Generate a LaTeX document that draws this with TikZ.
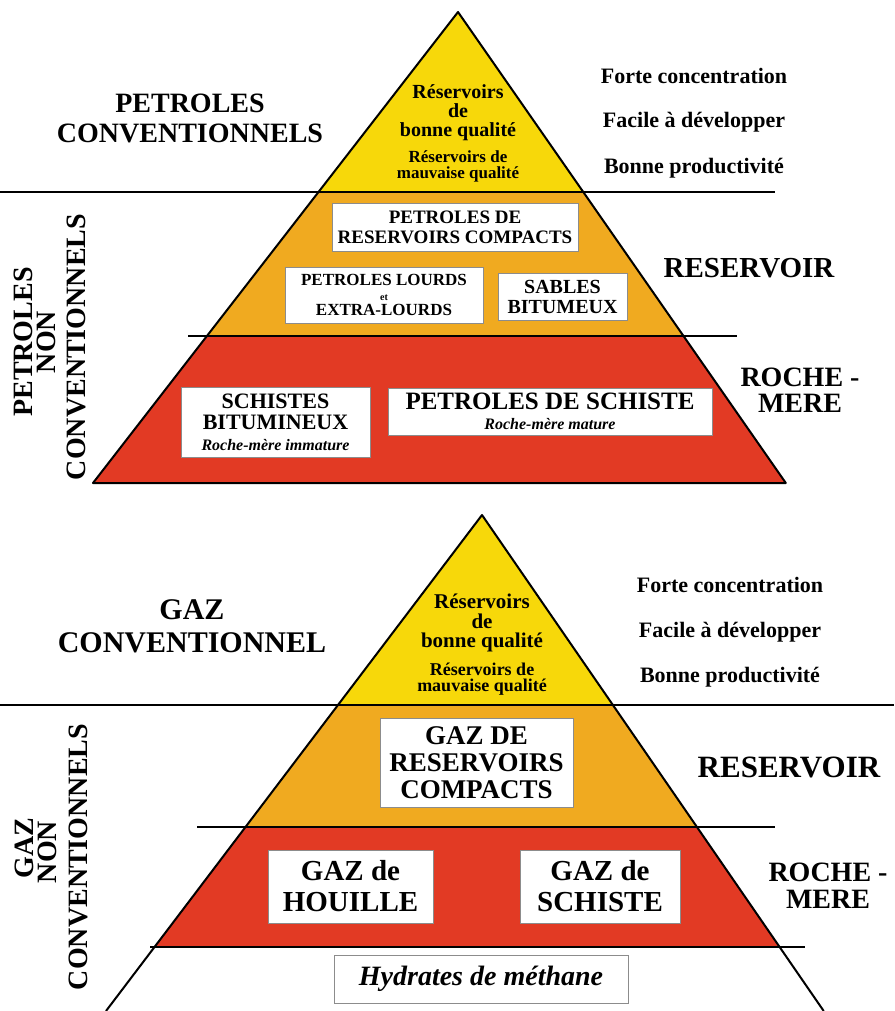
\documentclass[tikz,border=0pt]{standalone}
\usepackage{fontspec}
\setmainfont{Liberation Serif}
\definecolor{pyel}{RGB}{247,216,10}
\definecolor{porg}{RGB}{240,170,32}
\definecolor{pred}{RGB}{226,58,36}
\definecolor{boxgray}{RGB}{140,140,140}
\newcommand{\setfs}[2]{\fontsize{#1}{#2}\selectfont}
\tikzset{
  lbl/.style={inner sep=0pt, align=center},
  wbox/.style={draw=boxgray, line width=0.9pt, fill=white, inner sep=0pt, align=center},
  edge/.style={line width=2pt, line join=round},
  sep/.style={line width=1.8pt}
}
\begin{document}
\begin{tikzpicture}[x=1pt,y=-1pt]
\useasboundingbox (0,0) rectangle (894,1011);
% ---------- TOP PYRAMID ----------
\fill[pyel] (458,12) -- (318.5,192) -- (583.3,192) -- cycle;
\fill[porg] (318.5,192) -- (583.3,192) -- (683.5,336) -- (206.9,336) -- cycle;
\fill[pred] (206.9,336) -- (683.5,336) -- (785.8,483) -- (93,483) -- cycle;
\draw[edge] (458,12) -- (93,483) -- (785.8,483) -- cycle;
\draw[sep] (0,192) -- (775,192);
\draw[sep] (188,336) -- (737,336);

\node[lbl, font=\bfseries\setfs{28}{30}] (t1) at (190,118) {PETROLES\\CONVENTIONNELS};
\node[lbl, font=\bfseries\setfs{22}{22}] (tr1) at (694,76) {Forte concentration};
\node[lbl, font=\bfseries\setfs{22}{22}] (tr2) at (694,122) {Facile à développer};
\node[lbl, font=\bfseries\setfs{22}{22}] (tr3) at (694,168) {Bonne productivité};
\node[lbl, font=\bfseries\setfs{20}{19}] (y1) at (458,113) {Réservoirs\\de\\bonne qualité};
\node[lbl, font=\bfseries\setfs{17}{16}] (y2) at (458,166) {Réservoirs de\\mauvaise qualité};

\node[wbox, font=\bfseries\setfs{19}{20}, minimum width=246pt, minimum height=48pt] (b1) at (455,227) {PETROLES DE\\RESERVOIRS COMPACTS};
\node[wbox, font=\bfseries\setfs{17}{15}, minimum width=198pt, minimum height=56pt] (b2) at (384,295) {PETROLES LOURDS\\{\setfs{10}{15}et}\\EXTRA-LOURDS};
\node[wbox, font=\bfseries\setfs{20}{20}, minimum width=129pt, minimum height=47pt] (b3) at (562.5,296.5) {SABLES\\BITUMEUX};
\node[lbl, font=\bfseries\setfs{29}{29}] (r1) at (749,268) {RESERVOIR};
\node[lbl, font=\bfseries\setfs{28}{26}] (m1) at (800,390) {ROCHE -\\MERE};

\node[wbox, font=\bfseries\setfs{22}{21}, minimum width=189pt, minimum height=70pt] (b4) at (275.5,422) {SCHISTES\\BITUMINEUX\\{\itshape\setfs{16}{21}Roche-mère immature}};
\node[wbox, font=\bfseries\setfs{25}{20}, minimum width=324pt, minimum height=47pt] (b5) at (550,411.5) {PETROLES DE SCHISTE\\{\itshape\setfs{16}{20}Roche-mère mature}};

\node[lbl, font=\bfseries\setfs{28}{28}, rotate=90] (v1) at (23,342) {PETROLES};
\node[lbl, font=\bfseries\setfs{28}{28}, rotate=90] (v2) at (46,342) {NON};
\node[lbl, font=\bfseries\setfs{28}{28}, rotate=90] (v3) at (76,347) {CONVENTIONNELS};

% ---------- BOTTOM PYRAMID ----------
\fill[pyel] (482,515) -- (338,705) -- (612.9,705) -- cycle;
\fill[porg] (338,705) -- (612.9,705) -- (697,827) -- (245.5,827) -- cycle;
\fill[pred] (245.5,827) -- (697,827) -- (779.6,947) -- (154.5,947) -- cycle;
\draw[edge] (106,1011) -- (482,515) -- (823.7,1011);
\draw[sep] (0,705) -- (894,705);
\draw[sep] (197,827) -- (775,827);
\draw[sep] (150,947) -- (805,947);

\node[lbl, font=\bfseries\setfs{30}{33}] (t2) at (192,626) {GAZ\\CONVENTIONNEL};
\node[lbl, font=\bfseries\setfs{22}{22}] (tr4) at (730,585) {Forte concentration};
\node[lbl, font=\bfseries\setfs{22}{22}] (tr5) at (730,632) {Facile à développer};
\node[lbl, font=\bfseries\setfs{22}{22}] (tr6) at (730,677) {Bonne productivité};
\node[lbl, font=\bfseries\setfs{21}{19.5}] (y3) at (482,623) {Réservoirs\\de\\bonne qualité};
\node[lbl, font=\bfseries\setfs{18}{16}] (y4) at (482,679) {Réservoirs de\\mauvaise qualité};

\node[wbox, font=\bfseries\setfs{27}{27}, minimum width=193pt, minimum height=89pt] (b6) at (476.5,762.5) {GAZ DE\\RESERVOIRS\\COMPACTS};
\node[lbl, font=\bfseries\setfs{31}{31}] (r2) at (789,767) {RESERVOIR};
\node[wbox, font=\bfseries\setfs{29}{31}, minimum width=165pt, minimum height=73pt] (b7) at (350.5,886.5) {GAZ de\\HOUILLE};
\node[wbox, font=\bfseries\setfs{29}{31}, minimum width=160pt, minimum height=73pt] (b8) at (600,886.5) {GAZ de\\SCHISTE};
\node[lbl, font=\bfseries\setfs{28}{27}] (m2) at (828,886) {ROCHE -\\MERE};
\node[wbox, font=\bfseries\itshape\setfs{28}{28}, minimum width=294pt, minimum height=48pt] (b9) at (481,979) {Hydrates de méthane};

\node[lbl, font=\bfseries\setfs{28}{28}, rotate=90] (v4) at (24,848) {GAZ};
\node[lbl, font=\bfseries\setfs{28}{28}, rotate=90] (v5) at (47,852) {NON};
\node[lbl, font=\bfseries\setfs{28}{28}, rotate=90] (v6) at (78,857) {CONVENTIONNELS};
\end{tikzpicture}
\end{document}
